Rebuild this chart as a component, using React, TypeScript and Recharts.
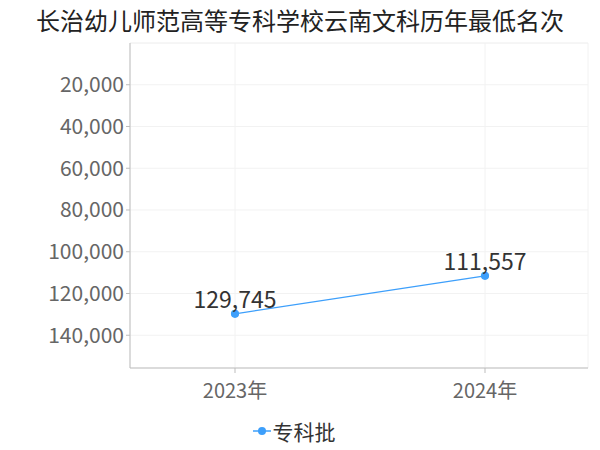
import { LineChart, Line, XAxis, YAxis, CartesianGrid, LabelList, Legend, ReferenceLine } from 'recharts'

const years = ['2023年', '2024年']
const lowestRank = [129745, 111557]
const yTicks = [20000, 40000, 60000, 80000, 100000, 120000, 140000]
const seriesName = '专科批'
const title = '长治幼儿师范高等专科学校云南文科历年最低名次'

const data = years.map((year, i) => ({ year, rank: lowestRank[i] }))

const FONT = '"Noto Sans CJK SC", "Noto Sans", sans-serif'
const BLUE = '#3d9ffb'
const GRID = '#f2f2f2'
const AXIS = '#bdbdbd'

const fmt = (v: unknown) => Number(v).toLocaleString('en-US')

function LegendContent() {
  return (
    <div style={{ display: 'flex', justifyContent: 'center', alignItems: 'center', paddingTop: 4, fontFamily: FONT, fontSize: 21, color: '#333' }}>
      <svg width={18} height={12} style={{ marginRight: 2 }}>
        <line x1={0} y1={6} x2={18} y2={6} stroke={BLUE} strokeWidth={1.5} />
        <circle cx={9} cy={6} r={4} fill={BLUE} />
      </svg>
      <span>{seriesName}</span>
    </div>
  )
}

export default function App() {
  return (
    <div style={{ position: 'absolute', left: 0, top: 0, width: 600, height: 450, background: '#fff' }}>
      <div
        style={{
          position: 'absolute', left: 0, top: 3, width: 600, textAlign: 'center',
          fontFamily: FONT, fontSize: 24, color: '#222', lineHeight: '34px',
        }}
      >
        {title}
      </div>
      <LineChart width={600} height={450} data={data} margin={{ top: 43, right: 12, bottom: 0, left: 0 }}>
        <CartesianGrid stroke={GRID} />
        <ReferenceLine y={0} stroke={GRID} />
        <XAxis
          dataKey="year"
          padding={{ left: 105, right: 103 }}
          axisLine={{ stroke: AXIS }}
          tickLine={{ stroke: AXIS }}
          tickSize={5}
          tickMargin={11}
          tick={{ fill: '#666', fontSize: 20, fontFamily: FONT }}
          height={44}
        />
        <YAxis
          reversed
          domain={[0, (max: number) => max * 1.2]}
          ticks={yTicks}
          tickFormatter={fmt}
          axisLine={{ stroke: AXIS }}
          tickLine={{ stroke: AXIS }}
          tickSize={4}
          tick={{ fill: '#666', fontSize: 21, fontFamily: FONT }}
          width={130}
        />
        <YAxis yAxisId="edge" orientation="right" width={0} tick={false} tickLine={false} axisLine={{ stroke: GRID }} />
        <Legend verticalAlign="bottom" height={38} content={<LegendContent />} />
        <Line
          type="linear"
          dataKey="rank"
          name={seriesName}
          stroke={BLUE}
          strokeWidth={1.2}
          dot={{ r: 3.5, fill: BLUE, stroke: BLUE }}
          isAnimationActive={false}
        >
          <LabelList dataKey="rank" position="top" offset={6} formatter={fmt} fill="#333" fontSize={23} fontFamily={FONT} />
        </Line>
      </LineChart>
    </div>
  )
}
